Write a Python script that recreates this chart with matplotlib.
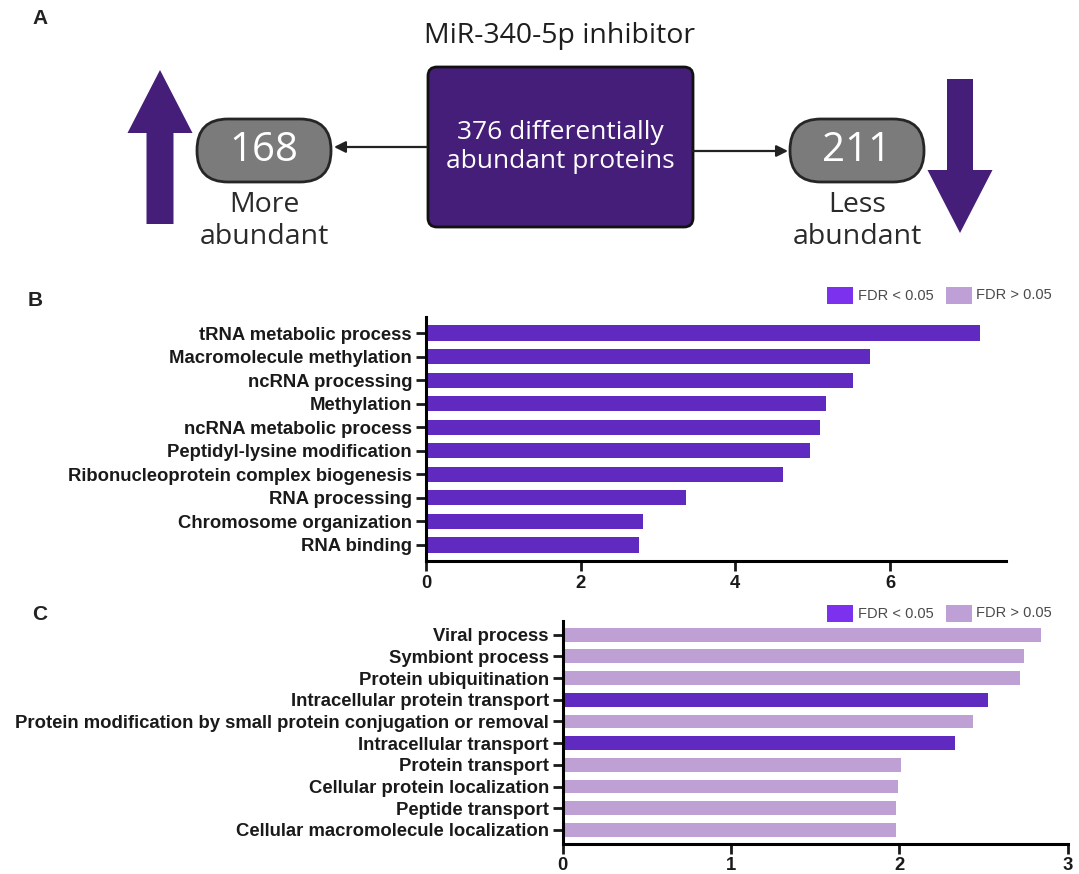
import matplotlib
matplotlib.use("Agg")
import matplotlib.pyplot as plt
import matplotlib.patches as mpatches

# GO terms enriched among more abundant proteins (panel B)
b_terms = ["tRNA metabolic process", "Macromolecule methylation", "ncRNA processing",
           "Methylation", "ncRNA metabolic process", "Peptidyl-lysine modification",
           "Ribonucleoprotein complex biogenesis", "RNA processing",
           "Chromosome organization", "RNA binding"]
b_values = [7.16, 5.74, 5.52, 5.17, 5.09, 4.97, 4.61, 3.36, 2.81, 2.75]
b_significant = [True] * 10

# GO terms enriched among less abundant proteins (panel C)
c_terms = ["Viral process", "Symbiont process", "Protein ubiquitination",
           "Intracellular protein transport",
           "Protein modification by small protein conjugation or removal",
           "Intracellular transport", "Protein transport",
           "Cellular protein localization", "Peptide transport",
           "Cellular macromolecule localization"]
c_values = [2.84, 2.74, 2.72, 2.53, 2.44, 2.33, 2.01, 1.99, 1.98, 1.98]
c_significant = [False, False, False, True, False, True, False, False, False, False]

n_total = 376
n_up = 168
n_down = 211

DARK = "#6029c0"
LIGHT = "#bea0d4"
KEY_DARK = "#7c31ee"
KEY_LIGHT = "#bfa0d6"
BOX = "#441e78"

W, H = 1079, 874
fig = plt.figure(figsize=(W / 100, H / 100), dpi=100)

# full-figure layer in pixel units for the schematic and legend keys
ov = fig.add_axes([0, 0, 1, 1], zorder=0)
ov.set_xlim(0, W)
ov.set_ylim(H, 0)
ov.axis("off")

sans = "Open Sans"
arial = "Liberation Sans"
ov.text(40, 19, "A", fontsize=15, fontweight="bold", family=arial, color="#222222",
        ha="center", va="center")
ov.text(560, 36, "MiR-340-5p inhibitor", fontsize=20.5, family=sans, color="#1e1e1e",
        ha="center", va="center")

box = mpatches.FancyBboxPatch((428, 67), 265, 160, boxstyle="round,pad=0,rounding_size=9",
                              fc=BOX, ec="#111111", lw=2)
ov.add_patch(box)
ov.text(560, 147, f"{n_total} differentially\nabundant proteins", fontsize=19, family=sans,
        color="white", ha="center", va="center", linespacing=1.17)

for x0, n, lab in [(197, n_up, "More\nabundant"), (790, n_down, "Less\nabundant")]:
    pill = mpatches.FancyBboxPatch((x0, 119), 134, 63, boxstyle="round,pad=0,rounding_size=31",
                                   fc="#7b7b7b", ec="#262626", lw=2)
    ov.add_patch(pill)
    ov.text(x0 + 67, 151, str(n), fontsize=29, family=sans, color="white",
            ha="center", va="center")
    ov.text(x0 + 67, 221, lab, fontsize=20.5, family=sans, color="#2a2a2a",
            ha="center", va="center", linespacing=1.17)

for start, end in [((427, 147), (334, 147)), ((693, 151), (788, 151))]:
    ov.add_patch(mpatches.FancyArrowPatch(start, end, arrowstyle="-|>", mutation_scale=17,
                                          color="#222222", lw=1.6, shrinkA=0, shrinkB=0))

ov.add_patch(mpatches.FancyArrow(160, 224, 0, -154, width=27, head_width=65, head_length=63,
                                 length_includes_head=True, fc=BOX, ec="none"))
ov.add_patch(mpatches.FancyArrow(960, 79, 0, 154, width=26, head_width=65, head_length=63,
                                 length_includes_head=True, fc=BOX, ec="none"))


def legend_keys(y):
    ov.add_patch(mpatches.Rectangle((827, y), 26, 17, fc=KEY_DARK, ec="none"))
    ov.text(858, y + 9, "FDR < 0.05", fontsize=10.5, family=arial, color="#4a4a4a",
            va="center")
    ov.add_patch(mpatches.Rectangle((946, y), 26, 17, fc=KEY_LIGHT, ec="none"))
    ov.text(976, y + 8, "FDR > 0.05", fontsize=10.5, family=arial, color="#4a4a4a",
            va="center")


def bar_panel(rect, terms, values, sig, xmax, ticks, ylim):
    ax = fig.add_axes(rect, zorder=2)
    ax.patch.set_alpha(0)
    y = list(range(len(terms)))
    colors = [DARK if s else LIGHT for s in sig]
    ax.barh(y, values, height=0.64, color=colors)
    ax.set_xlim(0, xmax)
    ax.set_ylim(*ylim)
    ax.set_yticks(y)
    ax.set_yticklabels(terms)
    ax.set_xticks(ticks)
    for s in ["top", "right"]:
        ax.spines[s].set_visible(False)
    for s in ["left", "bottom"]:
        ax.spines[s].set_linewidth(2.2)
    ax.tick_params(length=7, width=2, pad=3, labelsize=13.3, colors="#1a1a1a")
    for t in ax.get_yticklabels() + ax.get_xticklabels():
        t.set_fontweight("bold")
        t.set_family(arial)
    return ax


ov.text(35, 301, "B", fontsize=15, fontweight="bold", family=arial, color="#222222",
        ha="center", va="center")
bar_panel([426 / W, 1 - 561 / H, 580 / W, 244 / H], b_terms, b_values, b_significant,
          7.5, [0, 2, 4, 6], (9.68, -0.68))
legend_keys(287)

ov.text(40, 615, "C", fontsize=15, fontweight="bold", family=arial, color="#222222",
        ha="center", va="center")
bar_panel([562.7 / W, 1 - 843.6 / H, 504.8 / W, 222.6 / H], c_terms, c_values, c_significant,
          3, [0, 1, 2, 3], (9.63, -0.63))
legend_keys(605)

fig.savefig("out.png", dpi=100)
